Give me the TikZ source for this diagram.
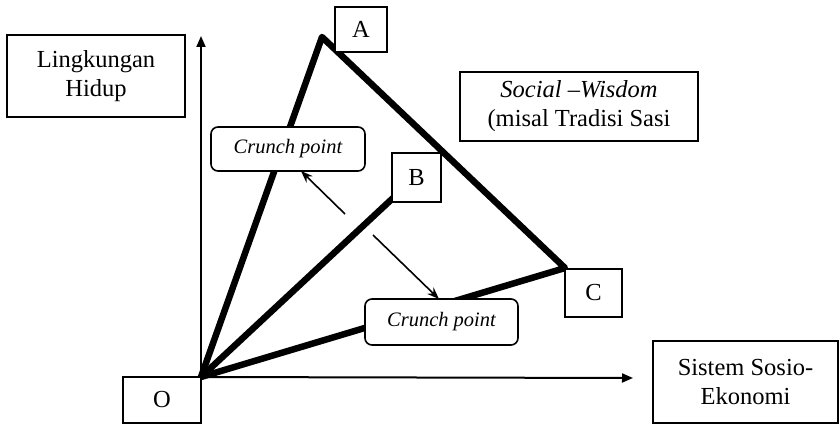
\documentclass[tikz,border=0pt]{standalone}
\usepackage{fontspec}
\setmainfont{Liberation Serif}
\usetikzlibrary{arrows.meta}
\begin{document}
\begin{tikzpicture}[x=1pt,y=-1pt,
  box/.style={draw, line width=1.6pt, fill=white, align=center, inner sep=0pt, font=\fontsize{24.5}{29}\selectfont},
  rbox/.style={box, rounded corners=7pt, font=\fontsize{20.5}{24}\selectfont\itshape},
  axis/.style={line width=2pt, -{Triangle[length=11pt,width=9pt]}},
  thickl/.style={line width=6.5pt, line join=round},
  arr/.style={line width=1.6pt, -{Stealth[length=12pt,width=9pt]}}]
\useasboundingbox (0,0) rectangle (839,425);
\coordinate (o) at (201,377);
\coordinate (ytip) at (201,36);
\coordinate (xtip) at (633,378);
\coordinate (pA) at (322,37);
\coordinate (pB) at (393,198);
\coordinate (pC) at (565,268);
\coordinate (a1s) at (345,214);
\coordinate (a1e) at (301,171);
\coordinate (a2s) at (373,235);
\coordinate (a2e) at (439,299);
\draw[axis] (o) -- (ytip);
\draw[axis] (o) -- (xtip);
\draw[thickl] (o) -- (pA) -- (pC) -- cycle;
\draw[thickl] (o) -- (pB);
\draw[arr] (a1s) -- (a1e);
\draw[arr] (a2s) -- (a2e);
\node[box, minimum width=178pt, minimum height=82pt] (ling) at (96,76) {Lingkungan\\Hidup};
\node[box, minimum width=52pt, minimum height=45pt] (A) at (361,29.5) {A};
\node[box, minimum width=238pt, minimum height=69pt] (social) at (579,106.5) {\textit{Social --Wisdom}\\(misal Tradisi Sasi};
\node[rbox, minimum width=154pt, minimum height=44pt] (cp1) at (288,149) {Crunch point};
\node[box, minimum width=49pt, minimum height=49pt] (B) at (416.5,177.5) {B};
\node[box, minimum width=57pt, minimum height=48pt] (C) at (593.5,293) {C};
\node[rbox, minimum width=153pt, minimum height=46pt] (cp2) at (441.5,322) {Crunch point};
\node[box, minimum width=78pt, minimum height=46pt] (O) at (162,400) {O};
\node[box, minimum width=185pt, minimum height=82pt] (sistem) at (745.5,382) {Sistem Sosio-\\Ekonomi};
\end{tikzpicture}
\end{document}
